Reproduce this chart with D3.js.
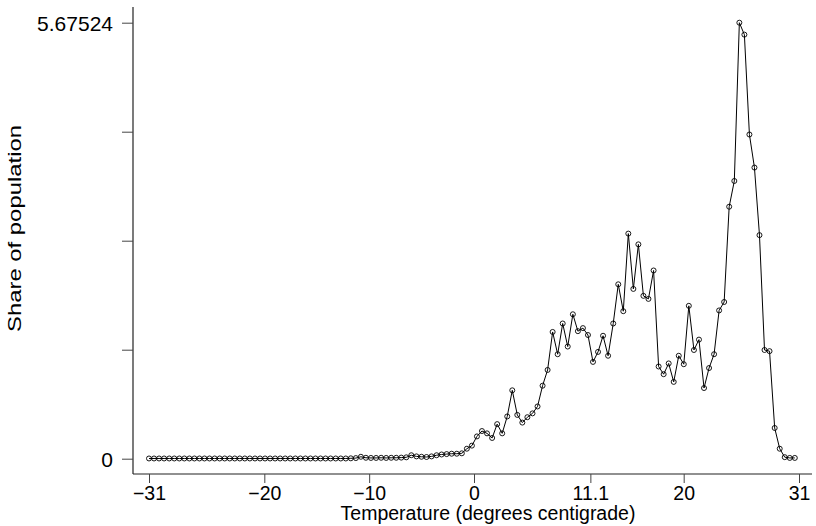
<!DOCTYPE html>
<html>
<head>
<meta charset="utf-8">
<script src="https://cdn.jsdelivr.net/npm/d3@7"></script>
<style>
  body { margin: 0; background: #fff; }
  text { font-family: "Liberation Sans", Arial, Helvetica, sans-serif; fill: #000; }
</style>
</head>
<body>
<script>
// temperature bins (degrees centigrade)
var temps = [
  -31, -30.52, -30.04, -29.56, -29.07, -28.59, -28.11, -27.63, -27.15, -26.67,
  -26.19, -25.71, -25.23, -24.74, -24.26, -23.78, -23.3, -22.82, -22.34, -21.86,
  -21.38, -20.89, -20.41, -19.93, -19.45, -18.97, -18.49, -18.01, -17.53, -17.04,
  -16.56, -16.08, -15.6, -15.12, -14.64, -14.16, -13.68, -13.19, -12.71, -12.23,
  -11.75, -11.27, -10.79, -10.31, -9.83, -9.34, -8.86, -8.38, -7.9, -7.42,
  -6.94, -6.46, -5.98, -5.49, -5.01, -4.53, -4.05, -3.57, -3.09, -2.61,
  -2.13, -1.64, -1.16, -0.68, -0.2, 0.28, 0.76, 1.24, 1.73, 2.21,
  2.69, 3.17, 3.65, 4.13, 4.61, 5.09, 5.58, 6.06, 6.54, 7.02,
  7.5, 7.98, 8.46, 8.94, 9.43, 9.91, 10.39, 10.87, 11.35, 11.83,
  12.31, 12.79, 13.28, 13.76, 14.24, 14.72, 15.2, 15.68, 16.16, 16.64,
  17.13, 17.61, 18.09, 18.57, 19.05, 19.53, 20.01, 20.49, 20.98, 21.46,
  21.94, 22.42, 22.9, 23.38, 23.86, 24.34, 24.83, 25.31, 25.79, 26.27,
  26.75, 27.23, 27.71, 28.19, 28.68, 29.16, 29.64, 30.12, 30.6
];

// share of population in each bin
var shares = [
  0.003, 0.003, 0.003, 0.003, 0.003, 0.003, 0.003, 0.003, 0.003, 0.003,
  0.003, 0.003, 0.003, 0.003, 0.003, 0.003, 0.003, 0.003, 0.003, 0.003,
  0.003, 0.003, 0.003, 0.003, 0.003, 0.003, 0.003, 0.003, 0.003, 0.003,
  0.003, 0.003, 0.003, 0.003, 0.003, 0.003, 0.003, 0.003, 0.003, 0.003,
  0.005, 0.008, 0.025, 0.012, 0.01, 0.01, 0.012, 0.01, 0.012, 0.012,
  0.014, 0.018, 0.045, 0.03, 0.025, 0.022, 0.03, 0.045, 0.055, 0.06,
  0.065, 0.065, 0.07, 0.13, 0.17, 0.29, 0.36, 0.33, 0.27, 0.45,
  0.33, 0.55, 0.89, 0.57, 0.47, 0.54, 0.59, 0.68, 0.95, 1.155,
  1.65, 1.36, 1.76, 1.46, 1.88, 1.66, 1.70, 1.61, 1.26, 1.39,
  1.60, 1.34, 1.76, 2.27, 1.92, 2.93, 2.21, 2.79, 2.12, 2.08,
  2.45, 1.20, 1.10, 1.24, 1.00, 1.34, 1.23, 1.99, 1.415, 1.55,
  0.92, 1.18, 1.36, 1.93, 2.04, 3.28, 3.615, 5.67524, 5.52, 4.22,
  3.79, 2.91, 1.415, 1.40, 0.40, 0.13, 0.02, 0.01, 0.01
];

var xTicks = [-31, -20, -10, 0, 11.1, 20, 31];
var yTicks = [0, 1.41881, 2.83762, 4.25643, 5.67524];
var yTickLabels = ["0", "", "", "", "5.67524"];

var width = 816;
var height = 526;

var svg = d3.select("body")
  .append("svg")
  .attr("width", width)
  .attr("height", height);

var x = d3.scaleLinear().domain([-31, 31]).range([149, 799]);
var y = d3.scaleLinear().domain([0, 5.67524]).range([458.7, 22.7]);

var data = temps.map(function(t, i) { return { t: t, v: shares[i] }; });

// frame lines of the plot region
svg.append("line")
  .attr("x1", 133).attr("x2", 812)
  .attr("y1", 474).attr("y2", 474)
  .attr("stroke", "#222").attr("stroke-width", 1.2);
svg.append("line")
  .attr("x1", 133).attr("x2", 133)
  .attr("y1", 7).attr("y2", 474)
  .attr("stroke", "#222").attr("stroke-width", 1.2);

var xAxis = svg.append("g")
  .attr("transform", "translate(0,474)")
  .call(d3.axisBottom(x)
    .tickValues(xTicks)
    .tickSize(9)
    .tickPadding(3)
    .tickFormat(function(d) { return String(d).replace("-", "\u2212"); }));
xAxis.select(".domain").remove();
xAxis.selectAll(".tick line").attr("stroke", "#444");
xAxis.selectAll(".tick text")
  .style("font-size", "19.5px")
  .style("font-family", "'Liberation Sans', Arial, sans-serif")
  .attr("fill", "#000");

var yAxis = svg.append("g")
  .attr("transform", "translate(133,0)")
  .call(d3.axisLeft(y)
    .tickValues(yTicks)
    .tickSize(11)
    .tickPadding(9)
    .tickFormat(function(d, i) { return yTickLabels[i]; }));
yAxis.select(".domain").remove();
yAxis.selectAll(".tick line").attr("stroke", "#444");
yAxis.selectAll(".tick text")
  .attr("dy", "0.38em")
  .style("font-size", "21px")
  .style("font-family", "'Liberation Sans', Arial, sans-serif")
  .attr("fill", "#000");

// connecting line
var line = d3.line()
  .x(function(d) { return x(d.t); })
  .y(function(d) { return y(d.v); });

svg.append("path")
  .datum(data)
  .attr("d", line)
  .attr("fill", "none")
  .attr("stroke", "#000")
  .attr("stroke-width", 1);

// hollow markers (line shows through them)
svg.selectAll("circle.pt")
  .data(data)
  .enter()
  .append("circle")
  .attr("class", "pt")
  .attr("cx", function(d) { return x(d.t); })
  .attr("cy", function(d) { return y(d.v); })
  .attr("r", 2.5)
  .attr("fill", "none")
  .attr("stroke", "#000")
  .attr("stroke-width", 0.9);

// axis titles
svg.append("text")
  .attr("x", 488)
  .attr("y", 520)
  .attr("text-anchor", "middle")
  .style("font-size", "19.5px")
  .text("Temperature (degrees centigrade)");

svg.append("text")
  .attr("transform", "translate(21,228.5) rotate(-90)")
  .attr("text-anchor", "middle")
  .attr("textLength", 207)
  .attr("lengthAdjust", "spacingAndGlyphs")
  .style("font-size", "18px")
  .text("Share of population");
</script>
</body>
</html>
